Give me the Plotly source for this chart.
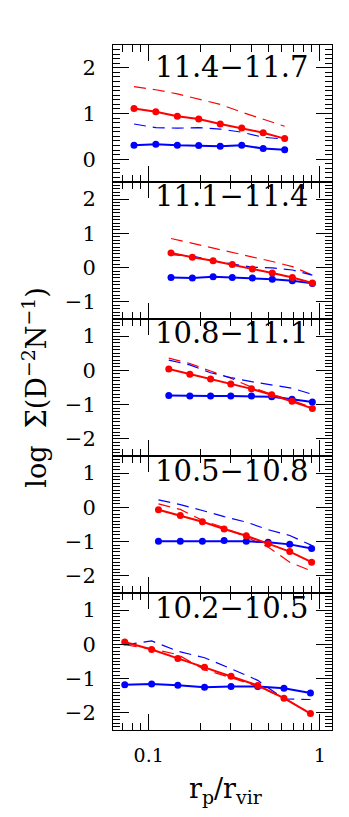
import plotly.graph_objects as go
from plotly.subplots import make_subplots

# mass bins (panel labels), top to bottom
bin_labels = ["11.4\u221211.7", "11.1\u221211.4", "10.8\u221211.1", "10.5\u221210.8", "10.2\u221210.5"]

# r_p / r_vir for each panel
x_p1 = [0.082, 0.110, 0.147, 0.196, 0.262, 0.350, 0.467, 0.624]
x_p2 = [0.135, 0.180, 0.238, 0.308, 0.404, 0.528, 0.692, 0.906]
x_p3 = [0.131, 0.174, 0.230, 0.302, 0.399, 0.524, 0.689, 0.906]
x_p4 = [0.114, 0.153, 0.206, 0.276, 0.372, 0.499, 0.668, 0.897]
x_p5 = [0.0724, 0.104, 0.148, 0.212, 0.303, 0.434, 0.618, 0.883]

# red (solid with points)
red_p1 = [1.11, 1.04, 0.94, 0.88, 0.77, 0.68, 0.58, 0.45]
red_p2 = [0.43, 0.30, 0.20, 0.09, -0.04, -0.16, -0.29, -0.45]
red_p3 = [0.04, -0.11, -0.25, -0.40, -0.54, -0.71, -0.90, -1.11]
red_p4 = [-0.07, -0.24, -0.42, -0.63, -0.83, -1.06, -1.29, -1.60]
red_p5 = [0.07, -0.15, -0.41, -0.67, -0.93, -1.20, -1.57, -2.02]

# blue (solid with points)
blue_p1 = [0.305, 0.327, 0.305, 0.298, 0.283, 0.305, 0.233, 0.204]
blue_p2 = [-0.29, -0.30, -0.27, -0.29, -0.30, -0.34, -0.38, -0.46]
blue_p3 = [-0.73, -0.75, -0.75, -0.75, -0.75, -0.77, -0.84, -0.92]
blue_p4 = [-0.99, -0.99, -0.99, -0.97, -0.99, -1.02, -1.08, -1.20]
blue_p5 = [-1.18, -1.16, -1.19, -1.25, -1.23, -1.23, -1.28, -1.42]

# red dashed
red_dash_p1 = [1.59, 1.52, 1.43, 1.32, 1.20, 1.03, 0.88, 0.72]
red_dash_p2 = [0.85, 0.71, 0.56, 0.45, 0.32, 0.18, 0.03, -0.22]
red_dash_p3 = [0.36, 0.20, -0.02, -0.23, -0.49, -0.70, -0.87, -1.09]
red_dash_p4 = [0.10, -0.06, -0.38, -0.59, -0.87, -1.16, -1.60, -1.86]
red_dash_p5 = [-0.01, -0.13, -0.30, -0.74, -0.97, -1.23, -1.56, -2.02]

# blue dashed
blue_dash_p1 = [0.77, 0.69, 0.68, 0.69, 0.66, 0.59, 0.48, 0.44]
blue_dash_p2 = [0.38, 0.34, 0.20, 0.11, 0.01, -0.01, -0.07, -0.22]
blue_dash_p3 = [0.30, 0.16, -0.07, -0.21, -0.33, -0.43, -0.52, -0.70]
blue_dash_p4 = [0.22, 0.08, -0.09, -0.27, -0.43, -0.65, -0.82, -1.11]
blue_dash_p5 = [-0.01, 0.10, -0.20, -0.39, -0.71, -1.05, -1.59, -1.61]

y_ranges = [[-0.5, 2.5], [-1.5, 2.5], [-2.5, 1.5], [-2.5, 1.5], [-2.5, 1.5]]

panels = [
    (x_p1, red_p1, blue_p1, red_dash_p1, blue_dash_p1),
    (x_p2, red_p2, blue_p2, red_dash_p2, blue_dash_p2),
    (x_p3, red_p3, blue_p3, red_dash_p3, blue_dash_p3),
    (x_p4, red_p4, blue_p4, red_dash_p4, blue_dash_p4),
    (x_p5, red_p5, blue_p5, red_dash_p5, blue_dash_p5),
]

FONT = "DejaVu Serif"
RED = "#ff0000"
BLUE = "#0000ff"

fig = make_subplots(rows=5, cols=1, shared_xaxes=True, vertical_spacing=0)

for row, (xs, red, blue, red_d, blue_d) in enumerate(panels, start=1):
    fig.add_trace(go.Scatter(x=xs, y=red_d, mode="lines",
                             line=dict(color=RED, width=1.2, dash="12px,7px")), row=row, col=1)
    fig.add_trace(go.Scatter(x=xs, y=blue_d, mode="lines",
                             line=dict(color=BLUE, width=1.2, dash="12px,7px")), row=row, col=1)
    fig.add_trace(go.Scatter(x=xs, y=blue, mode="lines+markers",
                             line=dict(color=BLUE, width=2), marker=dict(color=BLUE, size=7)),
                  row=row, col=1)
    fig.add_trace(go.Scatter(x=xs, y=red, mode="lines+markers",
                             line=dict(color=RED, width=2), marker=dict(color=RED, size=7)),
                  row=row, col=1)

x_minor = [0.07, 0.08, 0.09, 0.2, 0.3, 0.4, 0.5, 0.6, 0.7, 0.8, 0.9]

for row in range(1, 6):
    fig.update_xaxes(
        type="log", range=[-1.209, 0.072],
        tickvals=[0.1, 1], ticktext=["0.1", "1"],
        ticks="inside", ticklen=16, tickwidth=1, tickcolor="black",
        minor=dict(tickmode="array", tickvals=x_minor, ticks="inside", ticklen=7,
                   tickwidth=1, tickcolor="black", showgrid=False),
        showline=True, linecolor="black", linewidth=1, mirror="allticks",
        showgrid=False, zeroline=False, automargin=False,
        showticklabels=(row == 5),
        tickfont=dict(family=FONT, size=19, color="black"),
        ticklabelstandoff=8,
        row=row, col=1,
    )
    fig.update_yaxes(
        range=y_ranges[row - 1], tick0=0, dtick=1,
        ticks="inside", ticklen=16, tickwidth=1, tickcolor="black",
        minor=dict(dtick=0.1, tick0=0, ticks="inside", ticklen=7, tickwidth=1,
                   tickcolor="black", showgrid=False),
        showline=True, linecolor="black", linewidth=1, mirror="allticks",
        showgrid=False, zeroline=False, automargin=False,
        tickfont=dict(family=FONT, size=21, color="black"),
        ticklabelstandoff=12,
        row=row, col=1,
    )

# panel labels
label_shift = [-22, -14.5, -14.5, -14.5, -14.5]
for i, lab in enumerate(bin_labels):
    yref = "y domain" if i == 0 else f"y{i + 1} domain"
    fig.add_annotation(text=lab, x=0.54, xref="paper", y=1, yref=yref,
                       xanchor="center", yanchor="middle", yshift=label_shift[i],
                       showarrow=False, font=dict(family=FONT, size=29, color="black"))

# axis titles
fig.add_annotation(text="log  \u03a3(D<sup>\u22122</sup>N<sup>\u22121</sup>)",
                   x=-0.36, xref="paper", y=0.5, yref="paper", textangle=-90,
                   xanchor="center", yanchor="middle", showarrow=False,
                   font=dict(family=FONT, size=27, color="black"))
fig.add_annotation(text="r<sub>p</sub>/r<sub>vir</sub>",
                   x=0.518, xref="paper", y=0, yref="paper", yshift=-60,
                   xanchor="center", yanchor="middle", showarrow=False,
                   font=dict(family=FONT, size=27, color="black"))

# the page body adds an 8px margin, so size the figure to fit inside the window
fig.update_layout(
    width=341, height=809,
    margin=dict(l=105, r=17, t=37, b=87),
    showlegend=False,
    paper_bgcolor="white",
    plot_bgcolor="white",
)

fig.write_html("out.html")
